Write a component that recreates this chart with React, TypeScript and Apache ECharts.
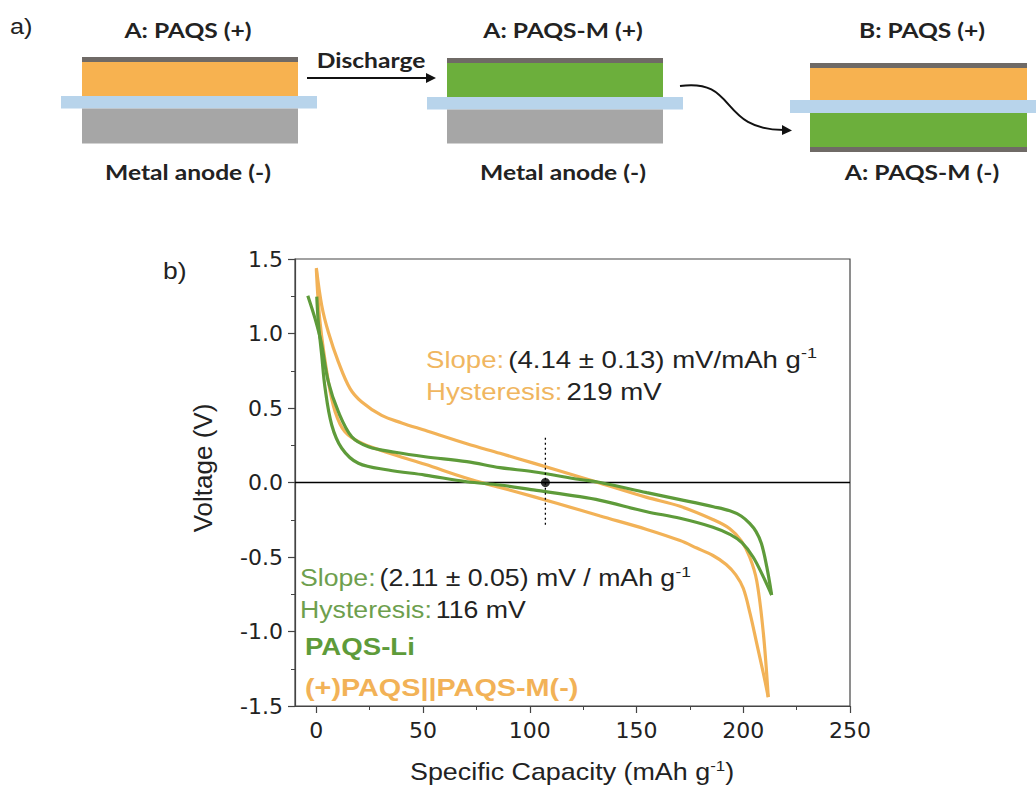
import React, { useEffect, useRef } from 'react';
import * as echarts from 'echarts';

// ---- Data ----
const xMajorTicks = [0, 50, 100, 150, 200, 250];
const xMinorTicks = [25, 75, 125, 175, 225];
const yMinorTicks = [-1.25, -0.75, -0.25, 0.25, 0.75, 1.25];

// (+)PAQS||PAQS-M(-) cell (orange), two branches
const orangeUpper: [number, number][] = [
  [0, 1.44], [2.5, 1.19], [5.6, 1.01], [10.3, 0.81], [15.8, 0.63], [21.3, 0.54], [30.6, 0.45],
  [40, 0.4], [50.9, 0.35], [70.5, 0.26], [86, 0.196], [101.7, 0.13], [125, 0.03], [133, -0.005],
  [154.8, -0.1], [170.4, -0.16], [186, -0.25], [193.7, -0.31], [199, -0.39], [203, -0.5],
  [206.3, -0.66], [209.4, -1.01], [211.7, -1.44],
];
const orangeLower: [number, number][] = [
  [0, 1.43], [1.7, 1.08], [5.6, 0.68], [8.8, 0.475], [13.4, 0.34], [21.3, 0.263], [36.9, 0.185],
  [50.9, 0.122], [70.5, 0.028], [86, -0.033], [101.7, -0.095], [123.5, -0.185], [133, -0.225],
  [154.8, -0.315], [170.4, -0.39], [178.2, -0.44], [185.8, -0.49], [192, -0.55], [196.5, -0.62],
  [200, -0.71], [203.2, -0.88], [206.3, -1.08], [209.4, -1.28], [211.7, -1.44],
];
// PAQS-Li cell (green), two branches
const greenUpper: [number, number][] = [
  [-4.0, 1.254], [-0.6, 1.1], [2.2, 0.945], [5.6, 0.677], [10.3, 0.475], [16.6, 0.307], [24.4, 0.24],
  [36.9, 0.203], [50.9, 0.173], [70.5, 0.14], [86, 0.1], [101.7, 0.072], [123.5, 0.02], [133, 0.0],
  [154.8, -0.068], [170.4, -0.115], [186, -0.163], [193.7, -0.19], [199, -0.225], [203, -0.275],
  [206, -0.33], [208.5, -0.41], [211, -0.565], [213.3, -0.755],
];
const greenLower: [number, number][] = [
  [0.2, 1.247], [0.9, 1.08], [2.5, 0.856], [4.1, 0.632], [7.2, 0.386], [11.9, 0.23], [19.7, 0.129],
  [33.7, 0.084], [50.9, 0.05], [70.5, 0.005], [86, -0.017], [101.7, -0.05], [123.5, -0.095],
  [133, -0.12], [154.8, -0.196], [170.4, -0.24], [185.8, -0.3], [194, -0.35], [199.5, -0.405],
  [204.6, -0.5], [209.3, -0.63], [213.3, -0.755],
];
const zeroLine: [number, number][] = [[-10, 0], [250, 0]];
const markerX = 107.3;
const markerLine: [number, number][] = [[markerX, 0.3], [markerX, -0.3]];
const markerPoint: [number, number][] = [[markerX, 0]];

const ORANGE = '#F2B257';
const GREEN = '#5E9B3A';
const ORANGE_TXT = '#F0B660';
const GREEN_TXT = '#6E9F4E';
const DIAG_FONT = 'Lato, "Open Sans", sans-serif';
const CHART_FONT = '"Liberation Sans", Arial, sans-serif';
const TICK_FONT = '"DejaVu Sans", "Liberation Sans", sans-serif';

function diagText(text: string, x: number, y: number) {
  return {
    type: 'text', x, y, scaleX: 1.23,
    style: {
      text, x: 0, y: 0, fill: '#222', font: `bold 20px ${DIAG_FONT}`,
      textAlign: 'center', textVerticalAlign: 'middle',
    },
  };
}
function rect(x: number, y: number, width: number, height: number, fill: string) {
  return { type: 'rect', shape: { x, y, width, height }, style: { fill } };
}

const supRich = {
  k: { fill: '#222', fontSize: 23, fontFamily: CHART_FONT, lineHeight: 28 },
  o: { fill: ORANGE_TXT, fontSize: 23, fontFamily: CHART_FONT, lineHeight: 28 },
  g: { fill: GREEN_TXT, fontSize: 23, fontFamily: CHART_FONT, lineHeight: 28 },
  s: { fill: '#222', fontSize: 15, fontFamily: CHART_FONT, verticalAlign: 'top', lineHeight: 28 },
};
const axisRich = {
  k: { fill: '#222', fontSize: 24, fontFamily: CHART_FONT, lineHeight: 28 },
  s: { fill: '#222', fontSize: 15, fontFamily: CHART_FONT, verticalAlign: 'top', lineHeight: 28 },
};

function richText(text: string, x: number, y: number, scale: number) {
  return {
    type: 'text', x, y, scaleX: scale,
    style: { text, x: 0, y: 0, rich: supRich, textAlign: 'left', textVerticalAlign: 'middle' },
  };
}
function boldText(text: string, x: number, y: number, fill: string, scale: number) {
  return {
    type: 'text', x, y, scaleX: scale,
    style: { text, x: 0, y: 0, font: `bold 24px ${CHART_FONT}`, fill, textVerticalAlign: 'middle' },
  };
}

const GRAY_STRIP = '#6F6A66';
const ORANGE_LAYER = '#F7B250';
const GREEN_LAYER = '#6CAF3C';
const BLUE = '#B8D4EB';
const ANODE = '#A6A6A6';

const graphics: any[] = [
  // a) panel
  { type: 'text', x: 10, y: 27, scaleX: 1.15, style: { text: 'a)', x: 0, y: 0, font: `22px ${CHART_FONT}`, fill: '#222', textVerticalAlign: 'middle' } },
  // cell 1
  rect(82, 57, 216, 5, GRAY_STRIP),
  rect(82, 62, 216, 34, ORANGE_LAYER),
  rect(61, 96, 256, 12.5, BLUE),
  rect(82, 108.5, 216, 35, ANODE),
  diagText('A: PAQS (+)', 188, 30),
  diagText('Metal anode (-)', 188, 172),
  // discharge arrow
  diagText('Discharge', 371, 60),
  { type: 'line', shape: { x1: 307, y1: 78, x2: 428, y2: 78 }, style: { stroke: '#111', lineWidth: 2 } },
  { type: 'polygon', shape: { points: [[426, 73], [436, 78], [426, 83]] }, style: { fill: '#111' } },
  // cell 2
  rect(447, 58, 216, 5, GRAY_STRIP),
  rect(447, 63, 216, 34, GREEN_LAYER),
  rect(427, 97, 256, 12.5, BLUE),
  rect(447, 109.5, 216, 34, ANODE),
  diagText('A: PAQS-M (+)', 563, 30),
  diagText('Metal anode (-)', 563, 172),
  // curved arrow
  {
    type: 'bezierCurve',
    shape: { x1: 680, y1: 86, cpx1: 738, cpy1: 78, cpx2: 718, cpy2: 130, x2: 784, y2: 130 },
    style: { stroke: '#111', lineWidth: 2, fill: 'none' },
  },
  { type: 'polygon', shape: { points: [[782, 125], [792, 130.5], [782, 135]] }, style: { fill: '#111' } },
  // cell 3
  rect(810, 63, 217, 5, GRAY_STRIP),
  rect(810, 68, 217, 32, ORANGE_LAYER),
  rect(790, 100, 246, 13, BLUE),
  rect(810, 113, 217, 34, GREEN_LAYER),
  rect(810, 147, 217, 5, GRAY_STRIP),
  diagText('B: PAQS (+)', 922, 30),
  diagText('A: PAQS-M (-)', 922, 172),
  // b) panel
  { type: 'text', x: 163, y: 271, scaleX: 1.15, style: { text: 'b)', x: 0, y: 0, font: `23px ${CHART_FONT}`, fill: '#222', textVerticalAlign: 'middle' } },
  // axis names
  {
    type: 'text', x: 203, y: 468, rotation: Math.PI / 2,
    style: { text: 'Voltage (V)', x: 0, y: 0, font: `26px ${CHART_FONT}`, fill: '#222', textAlign: 'center', textVerticalAlign: 'middle' },
  },
  {
    type: 'text', x: 572, y: 772, scaleX: 1.12,
    style: {
      text: '{k|Specific Capacity (mAh g}{s|-1}{k|)}', x: 0, y: 0, rich: axisRich,
      textAlign: 'center', textVerticalAlign: 'middle',
    },
  },
  // annotations
  richText('{o|Slope:} {k|(4.14 ± 0.13) mV/mAh g}{s|-1}', 426, 360, 1.2),
  richText('{o|Hysteresis:} {k|219 mV}', 426, 392, 1.2),
  richText('{g|Slope:} {k|(2.11 ± 0.05) mV / mAh g}{s|-1}', 300, 578, 1.16),
  richText('{g|Hysteresis:} {k|116 mV}', 300, 610, 1.16),
  boldText('PAQS-Li', 305, 647, '#5E9B3A', 1.15),
  boldText('(+)PAQS||PAQS-M(-)', 305, 688, '#F2B257', 1.2),
];

function curve(name: string, data: [number, number][], color: string) {
  return {
    name, type: 'line', data, showSymbol: false, symbol: 'none', smooth: 0.35,
    lineStyle: { color, width: 3.2 }, silent: true,
  };
}

const option: any = {
  animation: false,
  backgroundColor: '#fff',
  textStyle: { fontFamily: CHART_FONT },
  grid: {
    left: 295, top: 259, width: 555, height: 447, show: true,
    borderColor: '#444', borderWidth: 1.2, backgroundColor: 'transparent',
  },
  xAxis: [
    {
      type: 'value', min: -10, max: 250, position: 'bottom',
      axisLine: { show: true, onZero: false, lineStyle: { color: '#444', width: 1.2 } },
      axisTick: { show: true, length: 7, customValues: xMajorTicks, lineStyle: { color: '#444', width: 1.2 } },
      axisLabel: { show: true, customValues: xMajorTicks, margin: 13, fontSize: 22, color: '#222', fontFamily: TICK_FONT },
      splitLine: { show: false },
    },
    {
      type: 'value', min: -10, max: 250, position: 'bottom',
      axisLine: { show: false, onZero: false },
      axisTick: { show: true, length: 4, customValues: xMinorTicks, lineStyle: { color: '#444', width: 1 } },
      axisLabel: { show: false },
      splitLine: { show: false },
    },
  ],
  yAxis: [
    {
      type: 'value', min: -1.5, max: 1.5, interval: 0.5, position: 'left',
      axisLine: { show: true, onZero: false, lineStyle: { color: '#444', width: 1.2 } },
      axisTick: { show: true, length: 7, lineStyle: { color: '#444', width: 1.2 } },
      axisLabel: {
        show: true, margin: 12, fontSize: 22, color: '#222', fontFamily: TICK_FONT,
        formatter: (v: number) => v.toFixed(1),
      },
      splitLine: { show: false },
    },
    {
      type: 'value', min: -1.5, max: 1.5, position: 'left',
      axisLine: { show: false, onZero: false },
      axisTick: { show: true, length: 4, customValues: yMinorTicks, lineStyle: { color: '#444', width: 1 } },
      axisLabel: { show: false },
      splitLine: { show: false },
    },
  ],
  graphic: graphics,
  series: [
    {
      type: 'line', data: zeroLine, symbol: 'none', silent: true,
      lineStyle: { color: '#000', width: 1.3 },
    },
    curve('PAQS||PAQS-M upper', orangeUpper, ORANGE),
    curve('PAQS||PAQS-M lower', orangeLower, ORANGE),
    curve('PAQS-Li upper', greenUpper, GREEN),
    curve('PAQS-Li lower', greenLower, GREEN),
    {
      type: 'line', data: markerLine, symbol: 'none', silent: true,
      lineStyle: { color: '#000', width: 1.3, type: [2, 3] },
    },
    {
      type: 'scatter', data: markerPoint, symbol: 'circle', symbolSize: 9, silent: true,
      itemStyle: { color: '#000' },
    },
  ],
};

export default function App() {
  const ref = useRef<HTMLDivElement>(null);
  useEffect(() => {
    document.body.style.margin = '0';
    const chart = echarts.init(ref.current!, null, { renderer: 'svg' });
    chart.setOption(option);
    return () => chart.dispose();
  }, []);
  return <div ref={ref} style={{ width: 1036, height: 791, background: '#fff' }} />;
}
